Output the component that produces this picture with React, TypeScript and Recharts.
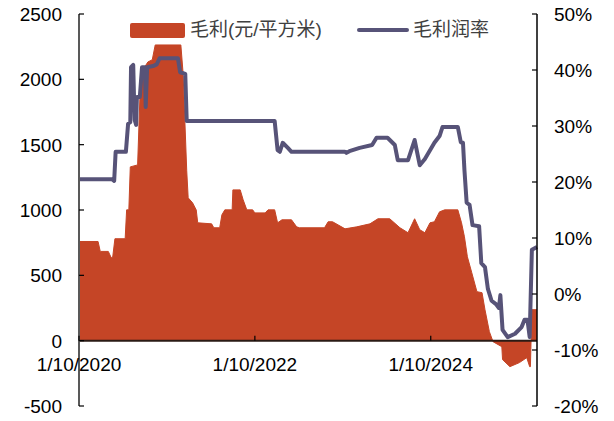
import React from "react";
import {
  ComposedChart,
  Area,
  Line,
  XAxis,
  YAxis,
  ReferenceLine,
  Legend,
} from "recharts";

// months since 1/10/2020
const areaMonths = [
  0, 2.6, 2.9, 4.0, 4.4, 4.6, 4.9, 6.3, 6.5, 6.8, 7.0, 8.0, 8.3, 8.7, 9.4, 10.0,
  10.4, 13.9, 14.2, 14.7, 14.9, 15.5, 16.0, 16.2, 18.1, 18.4, 19.2, 19.5, 19.9,
  20.9, 21.0, 22.0, 22.4, 22.9, 23.7, 24.0, 25.4, 25.8, 26.7, 27.1, 27.7, 29.0,
  29.7, 30.1, 33.5, 34.0, 34.6, 36.3, 37.9, 39.7, 40.8, 42.4, 43.8, 44.9, 45.8,
  46.5, 47.2, 47.9, 48.5, 49.2, 49.9, 51.7, 52.2, 52.6, 53.0, 53.6, 54.3, 55.0,
  55.4, 56.0, 56.5, 57.7, 57.8, 58.8, 60.1, 61.1, 61.5, 61.6, 61.8, 62.5,
];
const grossProfit = [
  759, 759, 683, 683, 634, 640, 780, 780, 1001, 1001, 1330, 1345, 1842, 2072,
  2133, 2150, 2263, 2263, 2050, 1300, 1093, 1055, 1000, 902, 894, 864, 864, 963,
  1001, 1001, 1154, 1154, 1078, 1001, 1001, 978, 978, 1001, 1001, 902, 925, 925,
  871, 864, 864, 910, 910, 856, 871, 894, 933, 933, 864, 826, 933, 849, 826, 902,
  910, 986, 1001, 1001, 902, 795, 642, 520, 375, 367, 237, 69, -8, -46, -145,
  -199, -168, -130, -199, -199, 237, 237,
];

const lineMonths = [
  0, 4.5, 4.8, 5.0, 6.4, 6.7, 7.0, 7.1, 7.4, 7.5, 7.6, 7.8, 7.9, 8.3, 8.6, 9.0,
  9.1, 9.3, 10.1, 10.6, 11.0, 13.5, 13.8, 14.5, 14.7, 26.7, 27.1, 27.4, 27.8,
  28.5, 29.0, 36.3, 36.5, 36.9, 38.3, 40.0, 40.6, 42.1, 43.1, 43.5, 44.9, 45.8,
  46.5, 47.2, 48.1, 48.5, 49.2, 49.6, 51.7, 52.1, 52.4, 52.6, 52.9, 53.3, 53.7,
  54.6, 54.9, 55.4, 55.8, 56.3, 56.9, 57.3, 57.5, 57.8, 58.5, 59.5, 60.4, 60.8,
  61.2, 61.5, 61.8, 62.5,
];
const marginRate = [
  20.5, 20.5, 20.2, 25.4, 25.4, 30.4, 30.7, 40.5, 40.9, 35.5, 31.1, 30.2, 35.2,
  35.2, 40.5, 40.5, 33.4, 40.5, 40.7, 41.0, 42.1, 42.1, 39.6, 39.3, 30.9, 30.9,
  25.7, 25.4, 27.0, 26.1, 25.4, 25.4, 25.2, 25.5, 26.1, 26.6, 27.9, 27.9, 26.6,
  23.9, 23.9, 27.5, 23.0, 24.1, 26.1, 27.0, 28.2, 29.8, 29.8, 27.1, 27.0, 22.1,
  16.3, 15.9, 12.3, 12.1, 5.5, 4.8, 0.9, -1.2, -1.8, -2.5, -0.2, -6.4, -7.7,
  -7.1, -5.9, -4.6, -4.6, -7.7, 7.9, 8.4,
];

const tickMonths = [0, 24, 48];
const tickLabels = ["1/10/2020", "1/10/2022", "1/10/2024"];
const leftTicks = [-500, 0, 500, 1000, 1500, 2000, 2500];
const rightTicks = [-20, -10, 0, 10, 20, 30, 40, 50];
const areaName = "毛利(元/平方米)";
const lineName = "毛利润率";

const AREA_COLOR = "#C54526";
const LINE_COLOR = "#575378";
const FONT = "'Liberation Sans', Arial, 'Noto Sans CJK SC', sans-serif";

const W = 614;
const H = 421;
const PLOT_LEFT = 79;
const PLOT_RIGHT = 537;
const PLOT_TOP = 14;
const PLOT_BOTTOM = 406;
const ZERO_Y = PLOT_TOP + ((PLOT_BOTTOM - PLOT_TOP) * 2500) / 3000;

const rows = (() => {
  const map = new Map<number, { m: number; gross?: number; rate?: number }>();
  areaMonths.forEach((m, i) => {
    const r = map.get(m) || { m };
    r.gross = grossProfit[i];
    map.set(m, r);
  });
  lineMonths.forEach((m, i) => {
    const r = map.get(m) || { m };
    r.rate = marginRate[i];
    map.set(m, r);
  });
  return Array.from(map.values()).sort((a, b) => a.m - b.m);
})();

const LeftTick = (props: any) => {
  const { y, payload } = props;
  return (
    <g>
      <line x1={PLOT_LEFT} x2={PLOT_LEFT + 5} y1={y} y2={y} stroke="#000" strokeWidth={1.2} />
      <text x={PLOT_LEFT - 17} y={y + 7} textAnchor="end" fontSize={19} fill="#000" fontFamily={FONT}>
        {payload.value}
      </text>
    </g>
  );
};

const RightTick = (props: any) => {
  const { y, payload } = props;
  return (
    <g>
      <line x1={PLOT_RIGHT - 5} x2={PLOT_RIGHT} y1={y} y2={y} stroke="#000" strokeWidth={1.2} />
      <text x={PLOT_RIGHT + 17} y={y + 7} textAnchor="start" fontSize={19} fill="#000" fontFamily={FONT}>
        {payload.value}%
      </text>
    </g>
  );
};

const BottomTick = (props: any) => {
  const { x, payload } = props;
  const idx = tickMonths.indexOf(payload.value);
  return (
    <g>
      <line x1={x} x2={x} y1={ZERO_Y - 5} y2={ZERO_Y} stroke="#000" strokeWidth={1.2} />
      <text x={x} y={ZERO_Y + 30} textAnchor="middle" fontSize={19} fill="#000" fontFamily={FONT}>
        {tickLabels[idx]}
      </text>
    </g>
  );
};

const LegendContent = () => (
  <div style={{ position: "relative", width: W, height: 40, fontFamily: FONT, fontSize: 19, color: "#404040" }}>
    <div
      style={{ position: "absolute", left: 130, top: 23, width: 55, height: 15, background: AREA_COLOR, borderRadius: 2 }}
    />
    <span style={{ position: "absolute", left: 190, top: 19, lineHeight: "22px", whiteSpace: "nowrap" }}>{areaName}</span>
    <div
      style={{ position: "absolute", left: 357, top: 28, width: 52, height: 4, background: LINE_COLOR, borderRadius: 2 }}
    />
    <span style={{ position: "absolute", left: 413, top: 19, lineHeight: "22px", whiteSpace: "nowrap" }}>{lineName}</span>
  </div>
);

export default function App() {
  return (
    <div style={{ position: "absolute", left: 0, top: 0, width: W, height: H, background: "#fff" }}>
      <ComposedChart
        width={W}
        height={H}
        data={rows}
        margin={{ top: PLOT_TOP, right: 0, bottom: 0, left: 0 }}
      >
        <XAxis
          dataKey="m"
          type="number"
          domain={[0, 62.5]}
          ticks={tickMonths}
          axisLine={false}
          tickLine={false}
          tick={<BottomTick />}
          height={H - PLOT_BOTTOM}
          interval={0}
        />
        <YAxis
          yAxisId="left"
          domain={[-500, 2500]}
          ticks={leftTicks}
          width={PLOT_LEFT}
          axisLine={{ stroke: "#595959", strokeWidth: 2 }}
          tickLine={false}
          tick={<LeftTick />}
          interval={0}
        />
        <YAxis
          yAxisId="right"
          orientation="right"
          domain={[-20, 50]}
          ticks={rightTicks}
          width={W - PLOT_RIGHT}
          axisLine={{ stroke: "#000", strokeWidth: 1.5 }}
          tickLine={false}
          tick={<RightTick />}
          interval={0}
        />
        <Legend
          layout="horizontal"
          verticalAlign="middle"
          content={<LegendContent />}
          wrapperStyle={{ left: 0, top: 0, width: W, height: 40, margin: 0, padding: 0 }}
        />
        <Area
          yAxisId="left"
          dataKey="gross"
          name={areaName}
          type="linear"
          fill={AREA_COLOR}
          fillOpacity={1}
          stroke={AREA_COLOR}
          strokeWidth={1}
          baseValue={0}
          connectNulls
          isAnimationActive={false}
          dot={false}
          activeDot={false}
        />
        <ReferenceLine yAxisId="left" y={0} stroke="#2a1a14" strokeWidth={2} />
        <Line
          yAxisId="right"
          dataKey="rate"
          name={lineName}
          type="linear"
          stroke={LINE_COLOR}
          strokeWidth={4}
          strokeLinejoin="round"
          connectNulls
          dot={false}
          activeDot={false}
          isAnimationActive={false}
        />
      </ComposedChart>
    </div>
  );
}
